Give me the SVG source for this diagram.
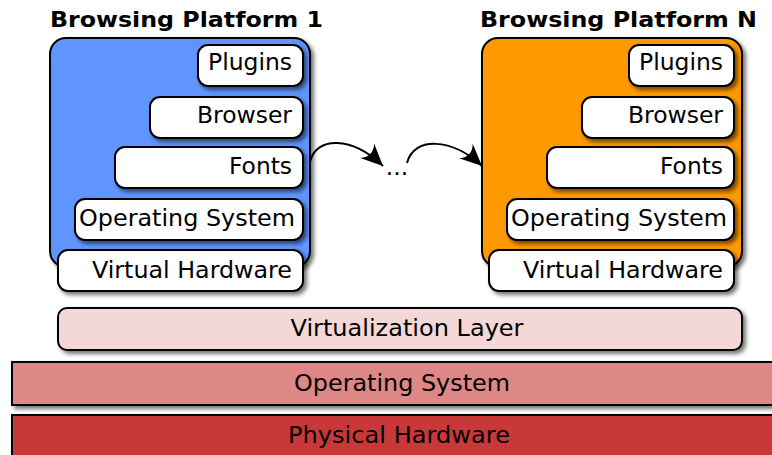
<svg xmlns="http://www.w3.org/2000/svg" width="772" height="455" viewBox="0 0 772 455">
<style>
.t{font-family:"DejaVu Sans",sans-serif;font-size:23.5px;fill:#000}
.title{font-family:"DejaVu Sans",sans-serif;font-size:22px;font-weight:bold;fill:#000}
.box{fill:#fff;stroke:#000;stroke-width:2}
.plat{stroke:#000;stroke-width:2}
.conn{fill:none;stroke:#000;stroke-width:2}
</style>
<defs>
<filter id="sh" x="-10%" y="-10%" width="130%" height="140%">
<feGaussianBlur in="SourceAlpha" stdDeviation="2"/>
<feOffset dx="3" dy="3" result="b"/>
<feComponentTransfer><feFuncA type="linear" slope="0.55"/></feComponentTransfer>
<feMerge><feMergeNode/><feMergeNode in="SourceGraphic"/></feMerge>
</filter>
<marker id="arr" markerUnits="userSpaceOnUse" markerWidth="40" markerHeight="40" viewBox="-20 -20 40 40" refX="0" refY="0" orient="auto" overflow="visible">
<path d="M0,0 L-22,-10 Q-13,0 -22,10 Z" fill="#000"/>
</marker>
</defs>

<g id="platform1">
<text class="title" x="50" y="27" textLength="273" lengthAdjust="spacingAndGlyphs">Browsing Platform 1</text>
<rect class="plat" x="50" y="38" width="260" height="229" rx="16" fill="#6195ff" filter="url(#sh)"/>
<g id="p1-plugins"><rect class="box" x="198" y="45" width="105" height="41" rx="10" filter="url(#sh)"/><text class="t" x="292" y="70" text-anchor="end" textLength="84" lengthAdjust="spacingAndGlyphs">Plugins</text></g>
<g id="p1-browser"><rect class="box" x="150" y="97" width="153" height="41" rx="10" filter="url(#sh)"/><text class="t" x="292" y="123" text-anchor="end" textLength="95" lengthAdjust="spacingAndGlyphs">Browser</text></g>
<g id="p1-fonts"><rect class="box" x="115" y="147" width="188" height="41" rx="10" filter="url(#sh)"/><text class="t" x="292" y="174" text-anchor="end" textLength="63" lengthAdjust="spacingAndGlyphs">Fonts</text></g>
<g id="p1-os"><rect class="box" x="75" y="199" width="228" height="41" rx="10" filter="url(#sh)"/><text class="t" x="295" y="226" text-anchor="end" textLength="216" lengthAdjust="spacingAndGlyphs">Operating System</text></g>
<g id="p1-vh"><rect class="box" x="58" y="250" width="245" height="41" rx="10" filter="url(#sh)"/><text class="t" x="292" y="278" text-anchor="end" textLength="200" lengthAdjust="spacingAndGlyphs">Virtual Hardware</text></g>
</g>

<g id="platformN">
<text class="title" x="480" y="27" textLength="277" lengthAdjust="spacingAndGlyphs">Browsing Platform N</text>
<rect class="plat" x="482" y="38" width="260" height="229" rx="16" fill="#ff9900" filter="url(#sh)"/>
<g id="pN-plugins"><rect class="box" x="629" y="45" width="105" height="41" rx="10" filter="url(#sh)"/><text class="t" x="723" y="70" text-anchor="end" textLength="84" lengthAdjust="spacingAndGlyphs">Plugins</text></g>
<g id="pN-browser"><rect class="box" x="582" y="97" width="152" height="41" rx="10" filter="url(#sh)"/><text class="t" x="723" y="123" text-anchor="end" textLength="95" lengthAdjust="spacingAndGlyphs">Browser</text></g>
<g id="pN-fonts"><rect class="box" x="547" y="147" width="187" height="41" rx="10" filter="url(#sh)"/><text class="t" x="723" y="174" text-anchor="end" textLength="63" lengthAdjust="spacingAndGlyphs">Fonts</text></g>
<g id="pN-os"><rect class="box" x="507" y="199" width="227" height="41" rx="10" filter="url(#sh)"/><text class="t" x="727" y="226" text-anchor="end" textLength="216" lengthAdjust="spacingAndGlyphs">Operating System</text></g>
<g id="pN-vh"><rect class="box" x="489" y="250" width="245" height="41" rx="10" filter="url(#sh)"/><text class="t" x="723" y="278" text-anchor="end" textLength="200" lengthAdjust="spacingAndGlyphs">Virtual Hardware</text></g>
</g>

<g id="ellipsis"><text class="t" x="397" y="175" text-anchor="middle" font-size="21">...</text></g>

<g id="connectors">
<path class="conn" d="M310,162 C316,136 352,136 383,166" marker-end="url(#arr)"/>
<path class="conn" d="M407,163 C414,136 452,138 482,166" marker-end="url(#arr)"/>
</g>

<g id="virtualization">
<rect x="58" y="308" width="684" height="42" rx="9" fill="#f4d7d7" stroke="#000" stroke-width="2" filter="url(#sh)"/>
<text class="t" x="407" y="336" text-anchor="middle" textLength="233" lengthAdjust="spacingAndGlyphs">Virtualization Layer</text>
</g>
<g id="host-os">
<rect x="12" y="362" width="775" height="43" fill="#de8787" stroke="#000" stroke-width="2" filter="url(#sh)"/>
<text class="t" x="402" y="391" text-anchor="middle" textLength="216" lengthAdjust="spacingAndGlyphs">Operating System</text>
</g>
<g id="physical">
<rect x="12" y="415" width="775" height="50" fill="#c83737" stroke="#000" stroke-width="2" filter="url(#sh)"/>
<text class="t" x="399" y="443" text-anchor="middle" textLength="222" lengthAdjust="spacingAndGlyphs">Physical Hardware</text>
</g>
</svg>
